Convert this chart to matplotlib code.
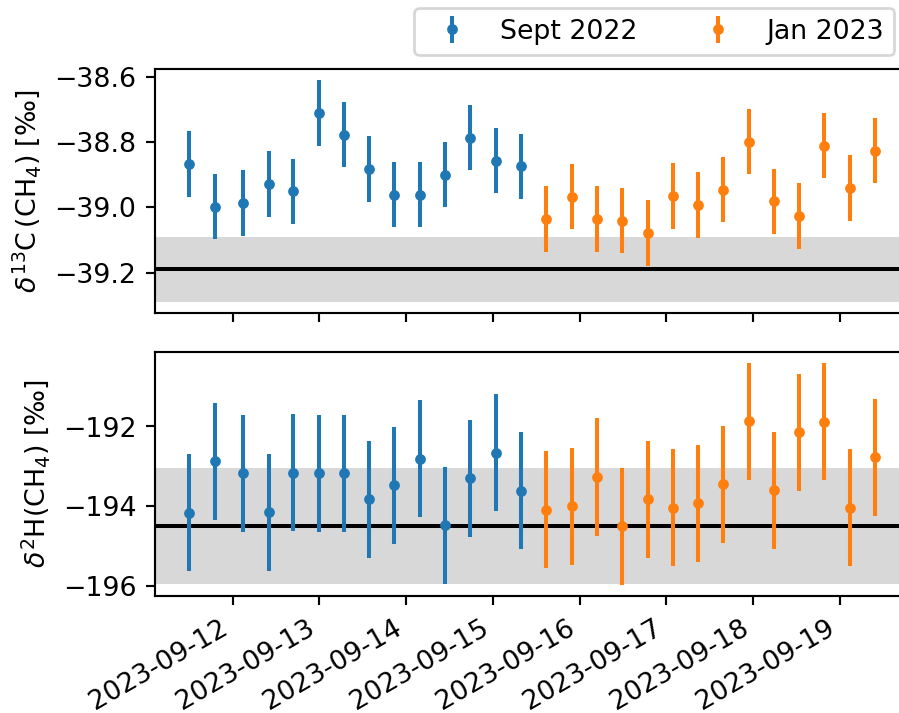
import numpy as np
import pandas as pd
import matplotlib
matplotlib.use("Agg")
import matplotlib.pyplot as plt
from matplotlib.ticker import MultipleLocator

times_sept = ["2023-09-11 12:00", "2023-09-11 19:00", "2023-09-12 02:50", "2023-09-12 09:56",
              "2023-09-12 16:47", "2023-09-12 23:57", "2023-09-13 06:48", "2023-09-13 13:48",
              "2023-09-13 20:47", "2023-09-14 03:55", "2023-09-14 10:49", "2023-09-14 17:48",
              "2023-09-15 00:45", "2023-09-15 07:45"]
times_jan = ["2023-09-15 14:50", "2023-09-15 21:52", "2023-09-16 04:52", "2023-09-16 11:43",
             "2023-09-16 18:48", "2023-09-17 01:49", "2023-09-17 08:48", "2023-09-17 15:43",
             "2023-09-17 22:51", "2023-09-18 05:46", "2023-09-18 12:45", "2023-09-18 19:45",
             "2023-09-19 02:47", "2023-09-19 09:42"]

d13c_sept = [-38.867, -38.998, -38.987, -38.928, -38.951, -38.711, -38.777,
             -38.882, -38.961, -38.961, -38.900, -38.787, -38.857, -38.874]
d13c_jan = [-39.035, -38.967, -39.036, -39.041, -39.078, -38.965, -38.993,
            -38.946, -38.799, -38.981, -39.026, -38.811, -38.941, -38.826]
d13c_err = 0.1

d2h_sept = [-194.17, -192.88, -193.18, -194.16, -193.16, -193.18, -193.18,
            -193.83, -193.48, -192.81, -194.48, -193.30, -192.66, -193.62]
d2h_jan = [-194.09, -194.00, -193.27, -194.51, -193.83, -194.04, -193.93,
           -193.45, -191.87, -193.60, -192.15, -191.88, -194.04, -192.78]
d2h_err = 1.47

# reference values (line) and their uncertainty (shaded band)
d13c_ref, d13c_ref_err = -39.19, 0.1
d2h_ref, d2h_ref_err = -194.51, 1.46

t_sept = pd.to_datetime(times_sept)
t_jan = pd.to_datetime(times_jan)

W, H = 899, 713
fig = plt.figure(figsize=(W / 193 + 0.0005, H / 193 + 0.0005), dpi=193)
ax1 = fig.add_axes([155 / W, 1 - 313.3 / H, (909 - 155) / W, (313.3 - 69.3) / H])
ax2 = fig.add_axes([155 / W, 1 - 596 / H, (909 - 155) / W, (596 - 351.7) / H], sharex=ax1)

# top panel: d13C
ax1.axhspan(d13c_ref - d13c_ref_err, d13c_ref + d13c_ref_err, color="grey", alpha=0.3, lw=0)
ax1.axhline(d13c_ref, color="k", lw=1.5)
ax1.errorbar(t_sept, d13c_sept, yerr=d13c_err, fmt=".", label="Sept 2022")
ax1.errorbar(t_jan, d13c_jan, yerr=d13c_err, fmt=".", label="Jan 2023")
ax1.set_ylabel(r"$\delta^{13}$C$\,$(CH$_4$) [‰]")
ax1.yaxis.set_major_locator(MultipleLocator(0.2))
ax1.tick_params(axis="x", labelbottom=False)

# bottom panel: d2H
ax2.axhspan(d2h_ref - d2h_ref_err, d2h_ref + d2h_ref_err, color="grey", alpha=0.3, lw=0)
ax2.axhline(d2h_ref, color="k", lw=1.5)
ax2.errorbar(t_sept, d2h_sept, yerr=d2h_err, fmt=".")
ax2.errorbar(t_jan, d2h_jan, yerr=d2h_err, fmt=".")
ax2.set_ylabel(r"$\delta^{2}$H(CH$_4$) [‰]")
ax2.yaxis.set_major_locator(MultipleLocator(2))
for lab in ax2.get_xticklabels():
    lab.set_rotation(30)
    lab.set_ha("right")

fig.align_ylabels([ax1, ax2])
fig.legend(ncol=2, loc="upper right", bbox_to_anchor=(894.3 / W, 1 - 8 / H), borderaxespad=0)

plt.savefig("out.png", dpi=193)
